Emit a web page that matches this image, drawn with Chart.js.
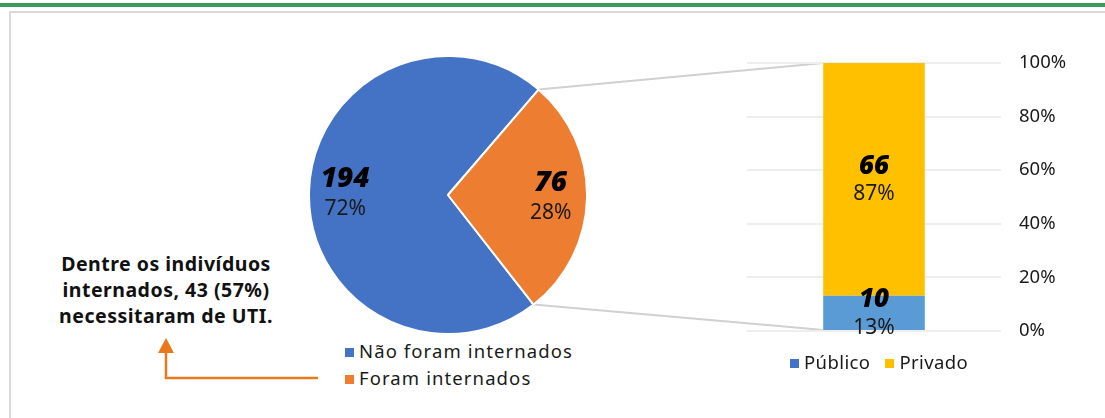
<!DOCTYPE html>
<html>
<head>
<meta charset="utf-8">
<script src="https://cdn.jsdelivr.net/npm/chart.js@4.4.1/dist/chart.umd.min.js"></script>
<style>
    body { margin: 0; width: 1105px; height: 418px; background: #fff; position: relative; overflow: hidden; font-family: "Noto Sans", sans-serif; color: #1a1a1a; }
    .top-bar { position: absolute; left: 0; top: 3px; width: 1105px; height: 4px; background: #3a9b5c; }
    .frame { position: absolute; left: 9px; top: 11px; width: 1110px; height: 420px; border-top: 2px solid #d9d9d9; border-left: 2px solid #d9d9d9; }
    canvas { position: absolute; }
    #overlay { position: absolute; left: 0; top: 0; }
    .note { position: absolute; left: 30px; top: 251px; width: 272px; text-align: center; font-weight: 700; font-size: 19.5px; letter-spacing: 0.5px; line-height: 26px; color: #111; }
    .legend { position: absolute; font-size: 18.5px; letter-spacing: 1.1px; line-height: 27px; white-space: nowrap; }
    .legend span.box { display: inline-block; width: 9px; height: 9px; margin-right: 5px; vertical-align: 1px; }
    .legend.row { letter-spacing: 0.4px; }
    .legend.row div { display: inline-block; margin-right: 15px; }
</style>
</head>
<body>
<div class="top-bar"></div>
<div class="frame"></div>
<svg id="overlay" width="1105" height="418"></svg>
<div class="note">Dentre os indivíduos<br>internados, 43 (57%)<br>necessitaram de UTI.</div>
<canvas id="pieChart" width="280" height="280" style="left:308px;top:55px"></canvas>
<canvas id="barChart" width="341" height="326" style="left:740px;top:34px"></canvas>
<div class="legend" id="pieLegend" style="left:345px;top:337px"></div>
<div class="legend row" id="barLegend" style="left:790px;top:348px"></div>

<script>
// Pie data
const pieLabels = ['Não foram internados', 'Foram internados'];
const pieValues = [194, 76];
const pieColors = ['#4472c4', '#ed7d31'];

// Bar data (internados by sector)
const barLabels = ['Público', 'Privado'];
const barValues = [10, 66];
const barColors = ['#5b9bd5', '#ffc000'];
const legendBarColors = ['#4472c4', '#ffc000'];
const yTicks = [0, 20, 40, 60, 80, 100];

const pieTotal = pieValues.reduce((a, b) => a + b, 0);
const barTotal = barValues.reduce((a, b) => a + b, 0);
const barPercents = barValues.map(v => v / barTotal * 100);

// Value + percent labels
const pieLabelPlugin = {
    id: 'pieLabels',
    afterDatasetsDraw(chart) {
        const ctx = chart.ctx;
        const meta = chart.getDatasetMeta(0);
        meta.data.forEach((arc, i) => {
            const mid = (arc.startAngle + arc.endAngle) / 2;
            const r = arc.outerRadius * 0.74;
            const x = arc.x + Math.cos(mid) * r;
            const y = arc.y + Math.sin(mid) * r;
            ctx.save();
            ctx.fillStyle = '#000';
            ctx.textAlign = 'center';
            ctx.textBaseline = 'middle';
            ctx.font = 'italic 900 28px "Noto Sans"';
            ctx.fillText(pieValues[i], x, y - 14);
            ctx.font = '21px "Noto Sans"';
            ctx.fillStyle = '#1a1a1a';
            ctx.fillText(Math.round(pieValues[i] / pieTotal * 100) + '%', x, y + 16);
            ctx.restore();
        });
    }
};

const barLabelPlugin = {
    id: 'barLabels',
    afterDatasetsDraw(chart) {
        const ctx = chart.ctx;
        chart.data.datasets.forEach((ds, i) => {
            const bar = chart.getDatasetMeta(i).data[0];
            const y = (bar.y + bar.base) / 2;
            ctx.save();
            ctx.textAlign = 'center';
            ctx.textBaseline = 'middle';
            ctx.fillStyle = '#000';
            ctx.font = 'italic 900 26px "Noto Sans"';
            ctx.fillText(barValues[i], bar.x, y - 13);
            ctx.font = '21px "Noto Sans"';
            ctx.fillStyle = '#1a1a1a';
            ctx.fillText(Math.round(barPercents[i]) + '%', bar.x, y + 15);
            ctx.restore();
        });
    }
};

const pieChart = new Chart(document.getElementById('pieChart'), {
    type: 'pie',
    data: {
        labels: pieLabels,
        datasets: [{
            data: pieValues,
            backgroundColor: pieColors,
            borderColor: '#fff',
            borderWidth: 2
        }]
    },
    options: {
        responsive: false,
        animation: false,
        rotation: 142,
        plugins: { legend: { display: false }, tooltip: { enabled: false } }
    },
    plugins: [pieLabelPlugin]
});

const barChart = new Chart(document.getElementById('barChart'), {
    type: 'bar',
    data: {
        labels: [''],
        datasets: barLabels.map((label, i) => ({
            label: label,
            data: [barPercents[i]],
            backgroundColor: barColors[i],
            categoryPercentage: 1,
            barPercentage: 0.4
        }))
    },
    options: {
        responsive: false,
        animation: false,
        layout: { padding: { left: 7, top: 7, bottom: 1 } },
        scales: {
            x: { stacked: true, display: false },
            y: {
                stacked: true,
                position: 'right',
                min: 0,
                max: 100,
                afterBuildTicks: s => { s.ticks = yTicks.map(v => ({ value: v })); },
                afterFit: s => { s.width = 80; },
                ticks: {
                    padding: 18,
                    color: '#1a1a1a',
                    font: { family: 'Noto Sans', size: 18.5 },
                    callback: v => v + '%'
                },
                grid: { color: '#eeeeee', lineWidth: 2, drawTicks: false },
                border: { display: false }
            }
        },
        plugins: { legend: { display: false }, tooltip: { enabled: false } }
    },
    plugins: [barLabelPlugin]
});

// Legends
document.getElementById('pieLegend').innerHTML = pieLabels.map((l, i) =>
    `<div><span class="box" style="background:${pieColors[i]}"></span>${l}</div>`).join('');
document.getElementById('barLegend').innerHTML = barLabels.map((l, i) =>
    `<div><span class="box" style="background:${legendBarColors[i]}"></span>${l}</div>`).join('');

// Connector lines from the orange slice to the stacked bar
function drawConnectors() {
    const pc = document.getElementById('pieChart');
    const bc = document.getElementById('barChart');
    const arc = pieChart.getDatasetMeta(0).data[1];
    const px = pc.offsetLeft, py = pc.offsetTop;
    const bx = bc.offsetLeft, by = bc.offsetTop;
    const r = arc.outerRadius;
    const p1 = [px + arc.x + Math.cos(arc.startAngle) * r, py + arc.y + Math.sin(arc.startAngle) * r];
    const p2 = [px + arc.x + Math.cos(arc.endAngle) * r, py + arc.y + Math.sin(arc.endAngle) * r];
    const top = barChart.getDatasetMeta(1).data[0];
    const bottom = barChart.getDatasetMeta(0).data[0];
    const leftX = bx + top.x - top.width / 2;
    const svg = document.getElementById('overlay');
    svg.innerHTML =
        `<line x1="${p1[0]}" y1="${p1[1]}" x2="${leftX}" y2="${by + top.y}" stroke="#d0d0d0" stroke-width="2"/>` +
        `<line x1="${p2[0]}" y1="${p2[1]}" x2="${leftX}" y2="${by + bottom.base}" stroke="#d0d0d0" stroke-width="2"/>` +
        // arrow under the note
        `<polyline points="318,378 166,378 166,350" fill="none" stroke="#e97a1c" stroke-width="2.5"/>` +
        `<polygon points="158,353 174,353 166,338" fill="#e97a1c"/>`;
}
drawConnectors();
</script>
</body>
</html>
